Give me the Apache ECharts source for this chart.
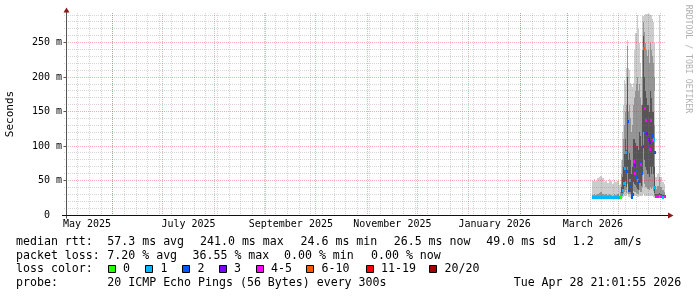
<!DOCTYPE html>
<html><head><meta charset="utf-8">
<script src="https://cdn.jsdelivr.net/npm/echarts@6/dist/echarts.min.js"></script>
<style>html,body{margin:0;padding:0;background:#fff}#c{width:697px;height:297px}</style>
</head><body><div id="c"></div>
<script>
const MONO = '"DejaVu Sans Mono", monospace';
// ---------- axis range & ticks ----------
const rangeStart = '2025-05-03T21:00:00Z';
const rangeEnd = '2026-04-28T21:00:00Z';
const yMax = 293;
const yTicks = [0, 50, 100, 150, 200, 250];
const yTickLabels = ['0  ', '50 m', '100 m', '150 m', '200 m', '250 m'];
const xLabelText = ['May 2025', 'July 2025', 'September 2025', 'November 2025', 'January 2026', 'March 2026'];
const xLabelMonth = ['2025-05-01', '2025-07-01', '2025-09-01', '2025-11-01', '2026-01-01', '2026-03-01'];
// ---------- data (seconds shown in ms) ----------
const times = [
 '2026-03-16','2026-03-17','2026-03-18','2026-03-19','2026-03-20','2026-03-21','2026-03-22','2026-03-23','2026-03-24',
 '2026-03-25','2026-03-26','2026-03-27','2026-03-28','2026-03-29','2026-03-30','2026-03-31','2026-04-01',
 '2026-04-02T00:00Z','2026-04-02T12:00Z','2026-04-03T00:00Z','2026-04-03T12:00Z','2026-04-04T00:00Z','2026-04-04T12:00Z',
 '2026-04-05T00:00Z','2026-04-05T12:00Z','2026-04-06T00:00Z','2026-04-06T12:00Z','2026-04-07T00:00Z','2026-04-07T12:00Z',
 '2026-04-08T00:00Z','2026-04-08T12:00Z','2026-04-09T00:00Z','2026-04-09T12:00Z','2026-04-10T00:00Z','2026-04-10T12:00Z',
 '2026-04-11T00:00Z','2026-04-11T12:00Z','2026-04-12T00:00Z','2026-04-12T12:00Z','2026-04-13T00:00Z','2026-04-13T12:00Z',
 '2026-04-14T00:00Z','2026-04-14T12:00Z','2026-04-15T00:00Z','2026-04-15T12:00Z','2026-04-16T00:00Z','2026-04-16T12:00Z',
 '2026-04-17T00:00Z','2026-04-17T12:00Z','2026-04-18T00:00Z','2026-04-18T12:00Z','2026-04-19T00:00Z','2026-04-19T12:00Z',
 '2026-04-20T00:00Z','2026-04-20T12:00Z','2026-04-21T00:00Z','2026-04-21T12:00Z','2026-04-22T00:00Z','2026-04-22T12:00Z',
 '2026-04-23','2026-04-24','2026-04-25','2026-04-26','2026-04-27','2026-04-28'
];
const lo = [24,24,24,24,24,24,24,24,24,24,24,24,24,24,24,24,24,
 24,24,25,26,27,27,28,27,30,26, 26,26,25,24,24,27,27,28,27,27, 26,26,28,28,27,27,28,30,30,28, 28,28,27,27,27,27,28,27,27,26, 26,25,
 24,24,24,24,24,24];
const p10 = [24.3,24.3,24.3,24.3,24.3,24.3,24.3,24.3,24.3,24.3,24.3,24.3,24.3,24.3,24.3,24.3,24.3,
 24.5,26,28,30,35,33,36,32,45,30, 30,31,30,24.5,25,35,33,34,33,32, 31,30,35,36,34,33,40,60,55,45, 40,40,38,38,36,36,40,38,40,35, 32,28,
 24.5,24.5,24.5,24.5,24.5,24.5];
const q1 = [24.6,24.6,24.6,24.6,24.6,24.6,24.6,24.6,24.6,24.6,24.6,24.6,24.6,24.6,24.6,24.6,24.6,
 25,27,31,35,45,42,50,40,70,34, 35,38,34,25,27,48,42,45,44,40, 38,36,48,50,46,42,60,120,100,80, 70,65,60,60,55,55,70,60,70,60, 50,32,
 25,25,25,25,25,25];
const med = [25,25.2,24.9,25,25.1,25,24.8,25,25.3,25,24.9,25,25.2,25,25,24.9,25.5,
 26,30,36,45,68,68,90,63,136,36, 42,50,42,25.5,30,77,60,72,65,55, 50,48,75,75,73,60,100,241,155,120, 137,118,100,109,95,105,137,115,108,110, 90,40,
 27,27,27,27,26,27];
const q3 = [26.5,27,26.8,27.5,28,28,27.5,26.5,27,26.5,27,26.8,26,27.5,26.5,27,26,
 28,40,55,70,90,88,110,95,200,80, 85,90,80,60,70,110,100,110,105,100, 100,95,120,120,115,100,160,260,230,200, 180,170,160,160,150,150,180,170,150,150, 130,70,
 30,30,32,30,29,29];
const p90 = [29,30,29,31,32,33,31,29,30,28.5,30,29,28,30,29,30,28,
 34,60,80,110,140,130,150,160,245,150, 150,160,140,120,130,160,150,170,180,190, 200,180,200,190,170,160,240,280,275,265, 250,240,230,240,230,220,250,240,230,220, 200,130,
 38,42,55,40,36,34];
const hi = [50,52,49,53,55,56,54,48,50,47,52,49,45,51,48,50,44,
 45,80,120,160,196,196,190,213,254,213, 210,200,192,190,185,192,208,240,264,264, 290,270,250,240,220,200,288,288,288,290, 291,291,291,291,291,290,290,290,285,280, 250,180,
 55,60,290,55,48,45];
const loss = [1,1,1,1,1,1,1,1,1,1,1,1,1,1,1,1,1,
 0,1,1,1,1,1,1,2,2,2, 2,1,2,2,2,4,4,3,2,2, 1,2,4,2,4,2,2,5,4,2, 4,3,2,3,4,3,4,2,4,1, 2,1,
 4,4,1,4,1,4];
const lossColors = ['#26ff00','#00b8ff','#0059ff','#7e00ff','#ff00ff','#ff5500','#ff0000','#a10000'];
const lossLabels = ['0','1','2','3','4-5','6-10','11-19','20/20'];

// ---------- build ----------
const T = s => new Date(s).getTime();
const tMin = T(rangeStart), tMax = T(rangeEnd);
const smokeData = times.map((t, i) => [T(t), i + 1 < times.length ? T(times[i + 1]) : tMax, lo[i], p10[i], q1[i], q3[i], p90[i], hi[i]]);
const medData = times.map((t, i) => [T(t), i + 1 < times.length ? T(times[i + 1]) : tMax, med[i], loss[i]]);

// grid lines (weekly minor on Sundays, monthly major)
const vGrid = [];
for (let d = new Date(Date.UTC(2025, 4, 11)); d.getTime() < tMax; d = new Date(d.getTime() + 7 * 86400000)) vGrid.push([d.getTime(), 0, 0]);
for (let m = 5; m <= 15; m++) vGrid.push([Date.UTC(2025, m, 1), 0, 1]);
const hGrid = [];
for (let v = 10; v < yMax; v += 10) hGrid.push([tMin, v, v % 50 === 0 ? 1 : 0]);
const xLabData = xLabelMonth.map((m, i) => {
  const d = new Date(m + 'T00:00:00Z');
  const n = Date.UTC(d.getUTCFullYear(), d.getUTCMonth() + 1, 1);
  return [(d.getTime() + n) / 2, 0, i];
});

const MINOR = 'rgba(120,120,120,0.30)';
const MAJOR = 'rgba(220,40,40,0.36)';

const chart = echarts.init(document.getElementById('c'), null, {renderer: 'canvas'});
chart.setOption({
  animation: false,
  backgroundColor: '#ffffff',
  grid: {left: 66, top: 13, width: 599, height: 202, outerBoundsMode: 'none', containLabel: false},
  xAxis: {type: 'time', min: tMin, max: tMax, axisLabel: {show: false}, axisLine: {show: false}, axisTick: {show: false}, splitLine: {show: false}},
  yAxis: {type: 'value', min: 0, max: yMax, interval: 50,
    axisLine: {show: false}, axisTick: {show: false}, splitLine: {show: false},
    axisLabel: {show: true, showMaxLabel: false, margin: 4, fontFamily: MONO, fontSize: 10, color: '#000',
      formatter: v => { const i = yTicks.indexOf(v); return i >= 0 ? yTickLabels[i] : ''; }}},
  series: [
    { type: 'custom', name: 'smoke', z: 2, data: smokeData, encode: {x: [0, 1], y: [2, 7]},
      renderItem: (params, api) => {
        const x0 = Math.round(api.coord([api.value(0), 0])[0]);
        const x1 = Math.round(api.coord([api.value(1), 0])[0]);
        const w = Math.max(1, x1 - x0);
        const band = (a, b, color) => {
          const ya = Math.round(api.coord([api.value(0), api.value(a)])[1]);
          const yb = Math.round(api.coord([api.value(0), api.value(b)])[1]);
          return {type: 'rect', shape: {x: x0, y: yb, width: w, height: Math.max(1, ya - yb)}, style: {fill: color}};
        };
        return {type: 'group', children: [band(2, 7, '#cccccc'), band(3, 6, '#959595'), band(4, 5, '#555555')]};
      }},
    { type: 'custom', name: 'median', z: 3, data: medData, encode: {x: [0, 1], y: 2},
      renderItem: (params, api) => {
        const p = api.coord([api.value(0), api.value(2)]);
        const x0 = Math.round(p[0]);
        const x1 = Math.round(api.coord([api.value(1), 0])[0]);
        return {type: 'rect', shape: {x: x0, y: Math.round(p[1] - 1.5), width: Math.max(2, x1 - x0), height: 3},
          style: {fill: lossColors[api.value(3)]}};
      }},
    { type: 'custom', name: 'vgrid', z: 4, silent: true, data: vGrid, encode: {x: 0, y: 1}, clip: false,
      renderItem: (params, api) => {
        const cs = params.coordSys;
        const x = Math.floor(api.coord([api.value(0), 0])[0]) + 0.5;
        return {type: 'line', shape: {x1: x, y1: cs.y, x2: x, y2: cs.y + cs.height + 2},
          style: {stroke: api.value(2) ? MAJOR : MINOR, lineWidth: 1, lineDash: [1, 1]}};
      }},
    { type: 'custom', name: 'hgrid', z: 4, silent: true, data: hGrid, encode: {x: 0, y: 1}, clip: false,
      renderItem: (params, api) => {
        const cs = params.coordSys;
        const y = Math.floor(api.coord([api.value(0), api.value(1)])[1]) + 0.5;
        return {type: 'line', shape: {x1: cs.x - 2, y1: y, x2: cs.x + cs.width, y2: y},
          style: {stroke: api.value(2) ? MAJOR : MINOR, lineWidth: 1, lineDash: [1, 1]}};
      }},
    { type: 'custom', name: 'xlabels', z: 5, silent: true, data: xLabData, encode: {x: 0, y: 1}, clip: false,
      renderItem: (params, api) => {
        const cs = params.coordSys;
        const x = api.coord([api.value(0), 0])[0];
        return {type: 'text', x: x, y: cs.y + cs.height + 9.5,
          style: {text: xLabelText[api.value(2)], font: '10px ' + MONO, fill: '#000', align: 'center', verticalAlign: 'middle'}};
      }},
    { type: 'custom', name: 'frame', z: 6, silent: true, data: [[tMin, 0]], encode: {x: 0, y: 1}, clip: false,
      renderItem: (params, api) => {
        const cs = params.coordSys;
        const ax = Math.floor(cs.x) + 0.5;
        const by = Math.floor(cs.y + cs.height) + 0.5;
        const ticks = yTicks.map(v => {
          const y = Math.floor(api.coord([tMin, v])[1]) + 0.5;
          return {type: 'line', shape: {x1: ax - 3, y1: y, x2: ax, y2: y}, style: {stroke: '#555', lineWidth: 1}};
        });
        return {type: 'group', children: ticks.concat([
          {type: 'line', shape: {x1: ax, y1: cs.y - 2, x2: ax, y2: by + 3}, style: {stroke: '#555', lineWidth: 1}},
          {type: 'line', shape: {x1: cs.x - 4, y1: by, x2: cs.x + cs.width + 3, y2: by}, style: {stroke: '#111', lineWidth: 1}},
          {type: 'polygon', shape: {points: [[ax - 3, cs.y - 0.5], [ax + 3, cs.y - 0.5], [ax, cs.y - 5.5]]}, style: {fill: '#8b1a1a'}},
          {type: 'polygon', shape: {points: [[cs.x + cs.width + 3, by - 3], [cs.x + cs.width + 3, by + 3], [cs.x + cs.width + 8.5, by]]}, style: {fill: '#8b1a1a'}}
        ])};
      }}
  ],
  graphic: (function () {
    const F = '11.6px ' + MONO;
    const t = (x, y, s) => ({type: 'text', x: x, y: y, silent: true, style: {text: s, font: F, fill: '#000', verticalAlign: 'middle'}});
    const els = [
      {type: 'text', x: 10.5, y: 114, rotation: Math.PI / 2, style: {text: 'Seconds', font: '11px ' + MONO, fill: '#000', align: 'center', verticalAlign: 'middle'}},
      {type: 'text', x: 688, y: 59, rotation: -Math.PI / 2, style: {text: 'RRDTOOL / TOBI OETIKER', font: '8.2px ' + MONO, fill: '#b0b0b0', align: 'center', verticalAlign: 'middle'}},
      t(16, 241.5, 'median rtt:'), t(107.3, 241.5, '57.3 ms avg'), t(200, 241.5, '241.0 ms max'), t(300.5, 241.5, '24.6 ms min'),
      t(393.7, 241.5, '26.5 ms now'), t(486.3, 241.5, '49.0 ms sd'), t(572.7, 241.5, '1.2'), t(613.7, 241.5, 'am/s'),
      t(16, 255.5, 'packet loss:'), t(107.3, 255.5, '7.20 % avg'), t(192.5, 255.5, '36.55 % max'), t(284, 255.5, '0.00 % min'), t(371, 255.5, '0.00 % now'),
      t(16, 269.3, 'loss color:'),
      t(16, 283.3, 'probe:'), t(107.3, 283.3, '20 ICMP Echo Pings (56 Bytes) every 300s'), t(513.7, 283.3, 'Tue Apr 28 21:01:55 2026')
    ];
    const boxX = [108, 145.5, 182.5, 219, 256, 306.5, 366, 429.5];
    lossLabels.forEach((s, i) => {
      els.push({type: 'rect', silent: true, shape: {x: Math.floor(boxX[i]) + 0.5, y: 265.5, width: 7, height: 7}, style: {fill: lossColors[i], stroke: '#000', lineWidth: 1}});
      els.push(t(boxX[i] + 15, 269.3, s));
    });
    return els;
  })()
});
</script></body></html>
